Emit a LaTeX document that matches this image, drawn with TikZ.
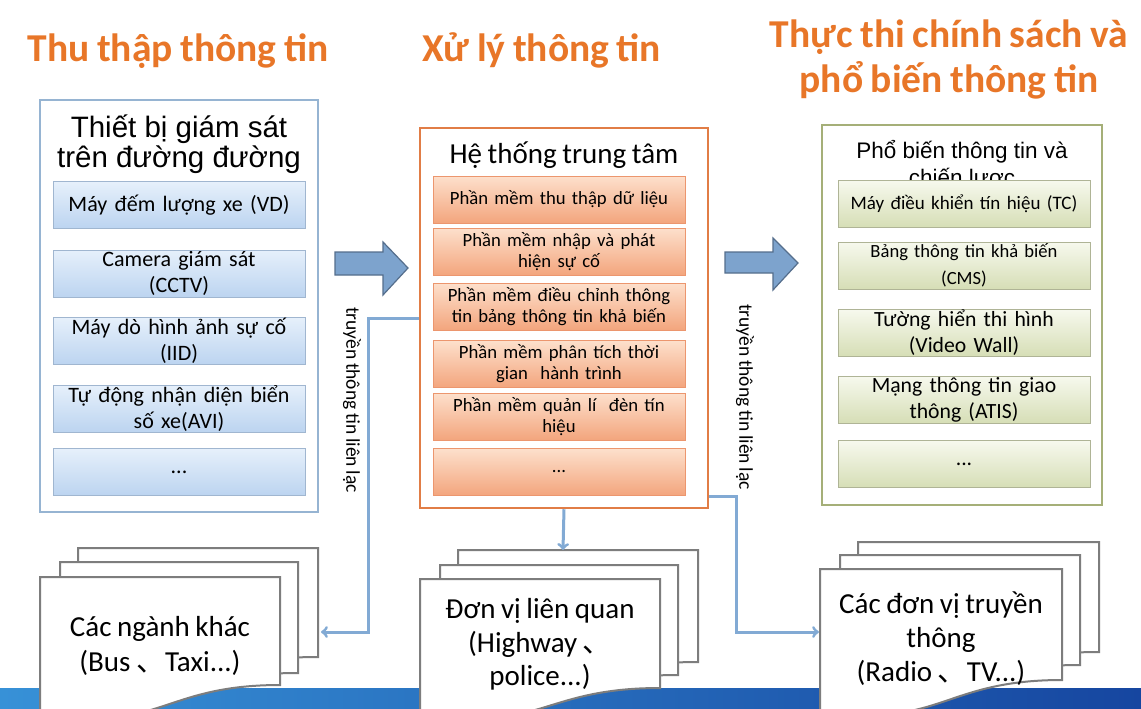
\documentclass[tikz,border=0pt]{standalone}
\usepackage{fontspec}
\setmainfont[WordSpace=0.85]{Carlito}
\newfontfamily\arialfont{Liberation Sans}
\newfontfamily\cjk{Noto Sans CJK SC}
\usepackage{tikz,xcolor}
\usetikzlibrary{shapes.geometric, arrows, positioning}

\begin{document}
\begin{tikzpicture}[x=1pt, y=-1pt]

\definecolor{titlecolor}{RGB}{232,118,40}
\definecolor{linkcolor}{RGB}{130,170,212}
\definecolor{bluepanel}{RGB}{150,180,210}
\definecolor{orangepanel}{RGB}{225,125,70}
\definecolor{greenpanel}{RGB}{165,175,120}
\definecolor{docgray}{RGB}{125,125,125}
\definecolor{bandlight}{RGB}{55,145,215}
\definecolor{banddark}{RGB}{22,70,160}

\tikzstyle{title} = [text=titlecolor, font=\fontsize{39.5}{45}\selectfont\bfseries, align=center]
\tikzstyle{panel} = [rectangle, fill=white, line width=2pt, inner sep=0pt]
\tikzstyle{item} = [rectangle, inner sep=0pt, minimum width=252pt, minimum height=47pt, text width=250pt, align=center, line width=1pt]
\tikzstyle{itemL} = [item, draw={rgb,255:red,160;green,182;blue,208}, top color={rgb,255:red,230;green,240;blue,251}, bottom color={rgb,255:red,188;green,212;blue,240}, font=\fontsize{22}{26}\selectfont]
\tikzstyle{itemC} = [item, draw={rgb,255:red,236;green,150;blue,110}, top color={rgb,255:red,253;green,224;blue,204}, bottom color={rgb,255:red,243;green,165;blue,125}, font=\fontsize{18.7}{21}\selectfont]
\tikzstyle{itemR} = [item, draw={rgb,255:red,175;green,180;blue,150}, top color={rgb,255:red,247;green,249;blue,238}, bottom color={rgb,255:red,214;green,222;blue,182}, font=\fontsize{21.7}{26}\selectfont]
\tikzstyle{bigarrow} = [fill={rgb,255:red,125;green,163;blue,205}, draw={rgb,255:red,85;green,110;blue,140}, line width=1.2pt, line join=miter]
\tikzstyle{doc} = [fill=white, draw=docgray, line width=2pt, line join=miter]
\tikzstyle{doctext} = [align=center, font=\fontsize{29}{35}\selectfont]
\tikzstyle{link} = [->, line width=3pt, draw=linkcolor, >=to]
\tikzstyle{sidetext} = [rotate=-90, font=\fontsize{19.5}{22}\selectfont]

\useasboundingbox (0,0) rectangle (1141,709);
\fill[white] (0,0) rectangle (1141,709);

% footer band
\shade[left color=bandlight, right color=banddark] (0,688) rectangle (1141,709);

% column titles
\node[title, anchor=base] (t1) at (178,62) {Thu thập thông tin};
\node[title, anchor=base] (t2) at (542,62) {Xử lý thông tin};
\node[title] (t3) at (949,59) {Thực thi chính sách và\\phổ biến thông tin};

% panels
\node[panel, draw=bluepanel, minimum width=278pt, minimum height=412pt] (lpanel) at (179,306) {};
\node[panel, draw=orangepanel, line width=2.5pt, minimum width=288pt, minimum height=380pt] (cpanel) at (564,318) {};
\node[panel, draw=greenpanel, line width=2.5pt, minimum width=280pt, minimum height=380pt] (rpanel) at (962,315) {};

\node[align=center, font=\arialfont\fontsize{29.5}{30}\selectfont] (lhead) at (179,144.5) {Thiết bị giám sát\\trên đường đường};
\node[anchor=base, font=\fontsize{29}{30}\selectfont] (chead) at (564,163) {Hệ thống trung tâm};
\node[align=center, font=\arialfont\fontsize{22.5}{27}\selectfont] (rhead) at (962,165) {Phổ biến thông tin và\\chiến lược};

% monitoring devices
\node[itemL] (l1) at (179,205) {Máy đếm lượng xe (VD)};
\node[itemL] (l2) at (179,273.5) {Camera giám sát\\(CCTV)};
\node[itemL] (l3) at (179,341) {Máy dò hình ảnh sự cố\\(IID)};
\node[itemL] (l4) at (179,408.5) {Tự động nhận diện biển\\số xe(AVI)};
\node[itemL] (l5) at (179,472) {...};

% central software
\node[itemC] (c1) at (559,199.5) {Phần mềm thu thập dữ liệu};
\node[itemC] (c2) at (559,251.5) {Phần mềm nhập và phát\\hiện sự cố};
\node[itemC] (c3) at (559,306.5) {Phần mềm điều chỉnh thông\\tin bảng thông tin khả biến};
\node[itemC] (c4) at (559,364) {Phần mềm phân tích thời\\gian \ hành trình};
\node[itemC] (c5) at (559,416.5) {Phần mềm quản lí \ đèn tín\\hiệu};
\node[itemC] (c6) at (559,472) {...};

% dissemination
\node[itemR, font=\fontsize{19}{26}\selectfont] (r1) at (964,203.5) {Máy điều khiển tín hiệu (TC)};
\node[itemR, font=\fontsize{18.6}{27}\selectfont] (r2) at (964,265.5) {Bảng thông tin khả biến\\(CMS)};
\node[itemR] (r3) at (964,332.5) {Tường hiển thi hình\\(Video Wall)};
\node[itemR] (r4) at (964,399.5) {Mạng thông tin giao\\thông (ATIS)};
\node[itemR] (r5) at (964,464) {...};

% block arrows between panels
\draw[bigarrow] (335,252) -- (383,252) -- (383,242) -- (408,268) -- (383,295) -- (383,275) -- (335,275) -- cycle;
\draw[bigarrow] (725,252) -- (773,252) -- (773,238) -- (798,263) -- (773,290) -- (773,273) -- (725,273) -- cycle;

\node[sidetext] (s1) at (352,400) {truyền thông tin liên lạc};
\node[sidetext] (s2) at (745,397) {truyền thông tin liên lạc};

% other sectors
\draw[doc] (78,548) -- (318,548) -- (318,657) .. controls (198,657) and (198,699) .. (78,675) -- cycle;
\draw[doc] (60,562) -- (298,562) -- (298,673) .. controls (179,673) and (179,715) .. (60,691) -- cycle;
\draw[doc] (40,577) -- (280,577) -- (280,685) .. controls (160,685) and (160,735) .. (40,712) -- cycle;
\node[doctext] (khac) at (160,645.5) {Các ngành khác\\(Bus {\cjk 、}Taxi...)};
\coordinate (khacR) at (321,632);

% related units
\draw[doc] (458,550) -- (698,550) -- (698,662) .. controls (578,662) and (578,705) .. (458,680) -- cycle;
\draw[doc] (440,565) -- (678,565) -- (678,675) .. controls (559,675) and (559,717) .. (440,693) -- cycle;
\draw[doc] (420,579) -- (660,579) -- (660,688) .. controls (540,688) and (540,735) .. (420,712) -- cycle;
\node[doctext, font=\fontsize{29}{33.5}\selectfont] (lienquan) at (540,644.5) {Đơn vị liên quan\\(Highway {\cjk 、}\\police...)};
\coordinate (lienquanT) at (563,550);

% media
\draw[doc] (858,542) -- (1099,542) -- (1099,652) .. controls (978,652) and (978,694) .. (858,670) -- cycle;
\draw[doc] (840,555) -- (1080,555) -- (1080,665) .. controls (960,665) and (960,707) .. (840,683) -- cycle;
\draw[doc] (820,569) -- (1062,569) -- (1062,680) .. controls (941,680) and (941,730) .. (820,710) -- cycle;
\node[doctext, font=\fontsize{29}{34}\selectfont] (truyenthong) at (941,639) {Các đơn vị truyền\\thông\\(Radio {\cjk 、}TV...)};
\coordinate (truyenthongL) at (819,632);

% links from the central system
\draw[link] (cpanel.west) -- ++(-50,0) |- (khacR);
\draw[link] (cpanel.south) -- (lienquanT);
\draw[link] ([yshift=13pt]cpanel.south east) -- ++(27,0) |- (truyenthongL);

\end{tikzpicture}
\end{document}
